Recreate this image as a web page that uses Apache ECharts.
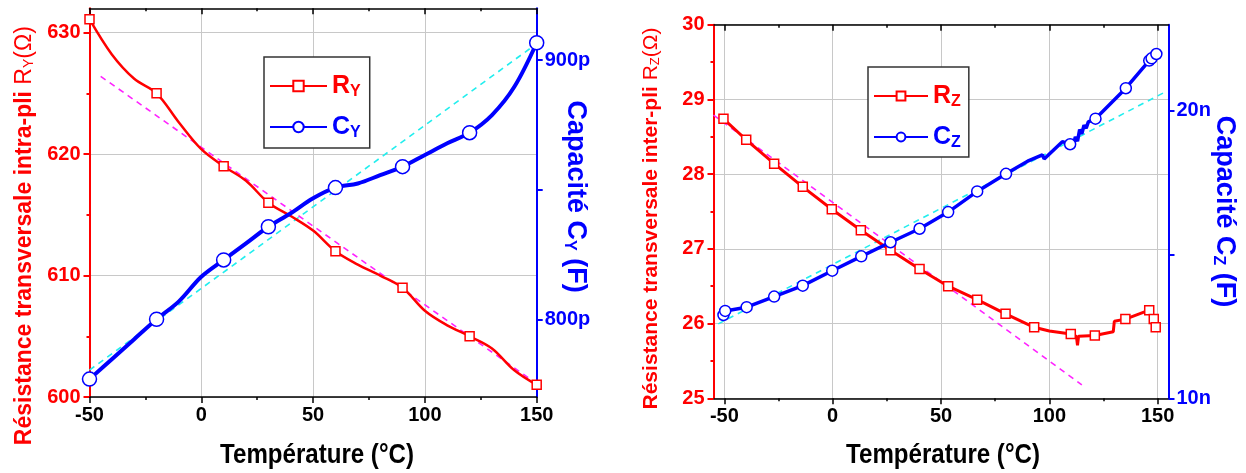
<!DOCTYPE html>
<html><head><meta charset="utf-8">
<script src="https://cdn.jsdelivr.net/npm/echarts@6/dist/echarts.min.js"></script>
<style>html,body{margin:0;padding:0;background:#fff}#c{width:1246px;height:473px}</style>
</head><body><div id="c"></div>
<script>
// ---------- Left chart: intra-ply (Y) ----------
const ryT = [-50,-40,-30,-20,-10,0,10,20,30,40,50,60,70,80,90,100,110,120,130,140,150];
const ryV = [631.1,628.2,626.2,625.0,622.6,620.4,619.0,617.8,616.0,614.9,613.7,612.0,610.9,610.0,609.0,607.1,605.9,605.0,604.0,602.2,601.0];
const ryMarkT = [-50,-20,10,30,60,90,120,150];
const cyT = [-50,-40,-30,-20,-10,0,10,20,30,40,50,60,70,80,90,100,110,120,130,140,150];
const cyV = [776.9,784.6,792.3,800.0,806.9,816.4,822.9,829.3,835.7,840.9,846.7,850.8,852.4,855.6,858.9,863.4,867.9,872.0,878.8,889.7,906.7];
const cyMarkT = [-50,-20,10,30,60,90,120,150];
const ryFitT = [-45,150], ryFitV = [626.4,601.1];
const cyFitT = [-50,148], cyFitV = [780.4,905.1];
const leftXMajor = [-50,0,50,100,150], leftXMinor = [-25,25,75,125];
const ryTicks = [600,610,620,630], ryMinor = [605,615,625];
const cyTicks = [800,850,900], cyLabels = [800,900];

// ---------- Right chart: inter-ply (Z) ----------
const rzT = [-50.4,-39.9,-27,-13.8,-0.4,13,26.7,40.1,53.3,66.7,79.8,93,100,109.9,112.5,113,113.5,121,129.5,130,135.1,146.1,148.2,149.1];
const rzV = [28.74,28.46,28.14,27.83,27.53,27.25,26.98,26.73,26.50,26.32,26.13,25.95,25.90,25.86,25.83,25.71,25.83,25.84,25.89,26.03,26.06,26.18,26.06,25.95];
const rzMarkT = [-50.4,-39.9,-27,-13.8,-0.4,13,26.7,40.1,53.3,66.7,79.8,93,109.9,121,135.1,146.1,148.2,149.1];
const czT = [-50.4,-49.6,-39.7,-27,-13.8,-0.2,13.2,26.7,40.1,53.3,66.7,80,90,96.8,97.6,106,109.6,111,112,113,114,115,116,117,118,121.3,135.3,146.1,147.2,149.4];
const czV = [12.90,13.04,13.17,13.54,13.92,14.44,14.94,15.43,15.90,16.48,17.20,17.81,18.25,18.47,18.33,18.93,18.84,18.75,19.10,18.95,19.35,19.20,19.50,19.40,19.62,19.73,20.79,21.75,21.83,21.98];
const czMarkT = [-50.4,-49.6,-39.7,-27,-13.8,-0.2,13.2,26.7,40.1,53.3,66.7,80,109.6,121.3,135.3,146.1,147.2,149.4];
const rzFitT = [-55,115], rzFitV = [28.79,25.18];
const czFitT = [-52.8,153], czFitV = [12.59,20.64];
const rightXMajor = [-50,0,50,100,150], rightXMinor = [-25,25,75,125];
const rzTicks = [25,26,27,28,29,30], rzMinor = [25.5,26.5,27.5,28.5,29.5];
const czTicks = [10,15,20], czLabels = [10,20];

const xTitle = 'Température (°C)';

const FONT = "'Liberation Sans', Arial, sans-serif";
const RED = '#ff0000', BLUE = '#0000ff', GRID = '#c8c8c8';

function withMarks(ts, vs, marks) {
  const s = new Set(marks);
  return ts.map((t, i) => s.has(t) ? [t, vs[i]] : { value: [t, vs[i]], symbol: 'none' });
}
function pairs(ts, vs) { return ts.map((t, i) => [t, vs[i]]); }

function xAxes(grid, min, max, major, minor) {
  const base = { type: 'value', gridIndex: grid, min: min, max: max };
  const blk = { color: '#000', width: 1.5 };
  return [
    Object.assign({}, base, {
      position: 'bottom',
      axisLine: { show: true, onZero: false, lineStyle: blk },
      axisTick: { show: true, inside: false, length: 6, customValues: major, lineStyle: blk },
      axisLabel: { show: true, customValues: major, margin: 8, color: '#000', fontFamily: FONT, fontWeight: 'bold', fontSize: 20 },
      splitLine: { show: true, lineStyle: { color: GRID, width: 1 } }
    }),
    Object.assign({}, base, {
      position: 'bottom', axisLine: { show: false, onZero: false },
      axisTick: { show: true, inside: false, length: 3, customValues: minor, lineStyle: blk },
      axisLabel: { show: false }, splitLine: { show: false }
    }),
    Object.assign({}, base, {
      position: 'top', axisLine: { show: true, onZero: false, lineStyle: blk },
      axisTick: { show: true, inside: true, length: 6, customValues: major, lineStyle: blk },
      axisLabel: { show: false }, splitLine: { show: false }
    }),
    Object.assign({}, base, {
      position: 'top', axisLine: { show: false, onZero: false },
      axisTick: { show: true, inside: true, length: 3, customValues: minor, lineStyle: blk },
      axisLabel: { show: false }, splitLine: { show: false }
    })
  ];
}

function resName(text, sub, size, padShift) {
  return {
    name: '{b|' + text + '}{n|R}{s|' + sub + '}{n|(Ω)}',
    nameRotate: 90,
    nameMoveOverlap: false,
    nameTextStyle: {
      color: RED, fontFamily: FONT, fontSize: size, padding: padShift,
      rich: {
        b: { color: RED, fontFamily: FONT, fontWeight: 'bold', fontSize: size },
        n: { color: RED, fontFamily: FONT, fontWeight: 'normal', fontSize: size },
        s: { color: RED, fontFamily: FONT, fontWeight: 'normal', fontSize: Math.round(size * 0.6), lineHeight: Math.round(size * 0.6), verticalAlign: 'bottom', padding: [Math.round(size * 0.95), 0, 0, 0] }
      }
    }
  };
}
function capName(sub, size, padShift) {
  return {
    name: '{b|Capacité C}{s|' + sub + '}{b| (F)}',
    nameRotate: -90,
    nameMoveOverlap: false,
    nameTextStyle: {
      color: BLUE, fontFamily: FONT, fontSize: size, fontWeight: 'bold', padding: padShift,
      rich: {
        b: { color: BLUE, fontFamily: FONT, fontWeight: 'bold', fontSize: size },
        s: { color: BLUE, fontFamily: FONT, fontWeight: 'bold', fontSize: Math.round(size * 0.6), lineHeight: Math.round(size * 0.6), verticalAlign: 'bottom', padding: [Math.round(size * 0.95), 0, 0, 0] }
      }
    }
  };
}

function yAxesRes(grid, min, max, ticks, minor, nameOpt, gap) {
  const ls = { color: RED, width: 2 };
  return [
    Object.assign({ type: 'value', gridIndex: grid, min: min, max: max, position: 'left',
      axisLine: { show: true, onZero: false, lineStyle: ls },
      axisTick: { show: true, inside: false, length: 6, customValues: ticks, lineStyle: ls },
      axisLabel: { show: true, customValues: ticks, margin: 9, color: RED, fontFamily: FONT, fontWeight: 'bold', fontSize: 20 },
      splitLine: { show: true, lineStyle: { color: GRID, width: 1 } },
      nameLocation: 'middle', nameGap: gap }, nameOpt),
    { type: 'value', gridIndex: grid, min: min, max: max, position: 'left',
      axisLine: { show: false, onZero: false },
      axisTick: { show: true, inside: false, length: 3, customValues: minor, lineStyle: ls },
      axisLabel: { show: false }, splitLine: { show: false } }
  ];
}
function yAxisCap(grid, min, max, ticks, labels, unit, nameOpt, gap) {
  const ls = { color: BLUE, width: 2 };
  return Object.assign({ type: 'value', gridIndex: grid, min: min, max: max, position: 'right',
    axisLine: { show: true, onZero: false, lineStyle: ls },
    axisTick: { show: true, inside: false, length: 6, customValues: ticks, lineStyle: ls },
    axisLabel: { show: true, customValues: labels, margin: 8, color: BLUE, fontFamily: FONT, fontWeight: 'bold', fontSize: 20,
      formatter: v => v + unit },
    splitLine: { show: false },
    nameLocation: 'middle', nameGap: gap }, nameOpt);
}

function legendFmt(color) {
  return {
    rich: {
      m: { color: color, fontFamily: FONT, fontWeight: 'bold', fontSize: 25, lineHeight: 28 },
      s: { color: color, fontFamily: FONT, fontWeight: 'bold', fontSize: 16, lineHeight: 16, verticalAlign: 'bottom', padding: [27, 0, 0, 0] }
    }
  };
}

const names = { RY: ['R', 'Y'], CY: ['C', 'Y'], RZ: ['R', 'Z'], CZ: ['C', 'Z'] };

function legend(data, left, top, pad, iw, ih) {
  return {
    data: data.map(n => ({ name: n, textStyle: legendFmt(n[0] === 'R' ? RED : BLUE) })),
    left: left, top: top, orient: 'vertical', itemWidth: iw, itemHeight: ih, itemGap: -2,
    padding: pad, borderColor: '#333', borderWidth: 1.5, backgroundColor: '#fff',
    selectedMode: false,
    formatter: n => '{m|' + names[n][0] + '}{s|' + names[n][1] + '}'
  };
}

const dashed = (color) => ({ color: color, width: 1.6, type: [6, 5] });

function title(x) {
  return { type: 'text', x: x, y: 455, scaleX: 0.86, z: 10,
    style: { text: xTitle, fill: '#000', font: 'bold 28px ' + FONT, textAlign: 'center', textVerticalAlign: 'middle' } };
}

const option = {
  animation: false,
  grid: [
    { left: 89.5, top: 8.3, width: 447.2, height: 388.7, outerBoundsMode: 'none', containLabel: false },
    { left: 713.5, top: 24.7, width: 455, height: 373.6, outerBoundsMode: 'none', containLabel: false }
  ],
  xAxis: [].concat(xAxes(0, -50, 150, leftXMajor, leftXMinor), xAxes(1, -55, 155, rightXMajor, rightXMinor)),
  yAxis: [].concat(
    yAxesRes(0, 600, 632, ryTicks, ryMinor, resName('Résistance transversale intra-pli ', 'Y', 23, [0, 66, 0, 0]), 53),
    [yAxisCap(0, 770, 920, cyTicks, cyLabels, 'p', capName('Y', 27, [0, 12, 0, 0]), 25)],
    yAxesRes(1, 25, 30, rzTicks, rzMinor, resName('Résistance transversale inter-pli ', 'Z', 21, [0, 14, 0, 0]), 52),
    [yAxisCap(1, 10, 23, czTicks, czLabels, 'n', capName('Z', 27, [0, 0, 0, 0]), 42)]
  ),
  legend: [
    legend(['RY', 'CY'], 264, 57, [0, 9, 7, 5], 57, 13),
    legend(['RZ', 'CZ'], 868, 67, [0, 8, 6, 5], 54, 11)
  ],
  graphic: [title(317), title(943)],
  series: [
    { type: 'line', name: 'fitRY', xAxisIndex: 0, yAxisIndex: 0, data: pairs(ryFitT, ryFitV), symbol: 'none', lineStyle: dashed('#ff22ff'), z: 1, silent: true },
    { type: 'line', name: 'fitCY', xAxisIndex: 0, yAxisIndex: 2, data: pairs(cyFitT, cyFitV), symbol: 'none', lineStyle: dashed('#22eeee'), z: 1, silent: true },
    { type: 'line', name: 'RY', xAxisIndex: 0, yAxisIndex: 0, data: withMarks(ryT, ryV, ryMarkT), smooth: 0.35,
      symbol: 'rect', symbolSize: 9, showAllSymbol: true, clip: false,
      lineStyle: { color: RED, width: 2.5 }, itemStyle: { color: '#fff', borderColor: RED, borderWidth: 1.5 }, emphasis: { disabled: true } },
    { type: 'line', name: 'CY', xAxisIndex: 0, yAxisIndex: 2, data: withMarks(cyT, cyV, cyMarkT), smooth: 0.35,
      symbol: 'circle', symbolSize: 14, showAllSymbol: true, clip: false,
      lineStyle: { color: BLUE, width: 4 }, itemStyle: { color: '#fff', borderColor: BLUE, borderWidth: 1.5 }, emphasis: { disabled: true } },

    { type: 'line', name: 'fitRZ', xAxisIndex: 4, yAxisIndex: 3, data: pairs(rzFitT, rzFitV), symbol: 'none', lineStyle: dashed('#ff22ff'), z: 1, silent: true },
    { type: 'line', name: 'fitCZ', xAxisIndex: 4, yAxisIndex: 5, data: pairs(czFitT, czFitV), symbol: 'none', lineStyle: dashed('#22eeee'), z: 1, silent: true },
    { type: 'line', name: 'RZ', xAxisIndex: 4, yAxisIndex: 3, data: withMarks(rzT, rzV, rzMarkT),
      symbol: 'rect', symbolSize: 9, showAllSymbol: true, clip: false,
      lineStyle: { color: RED, width: 3 }, itemStyle: { color: '#fff', borderColor: RED, borderWidth: 1.5 }, emphasis: { disabled: true } },
    { type: 'line', name: 'CZ', xAxisIndex: 4, yAxisIndex: 5, data: withMarks(czT, czV, czMarkT),
      symbol: 'circle', symbolSize: 11, showAllSymbol: true, clip: false,
      lineStyle: { color: BLUE, width: 3.5 }, itemStyle: { color: '#fff', borderColor: BLUE, borderWidth: 1.5 }, emphasis: { disabled: true } }
  ]
};

const chart = echarts.init(document.getElementById('c'), null, { renderer: 'canvas' });
chart.setOption(option);
</script>
</body></html>
